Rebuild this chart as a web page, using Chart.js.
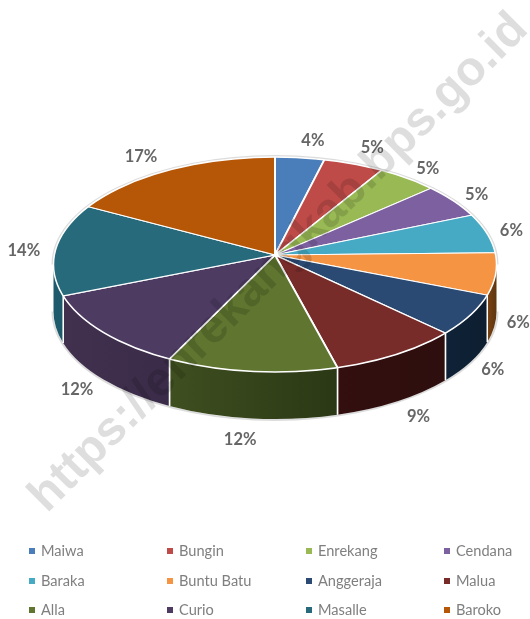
<!DOCTYPE html>
<html>
<head>
<meta charset="utf-8">
<style>
html,body{margin:0;padding:0;background:#fff;overflow:hidden}
#wrap{position:absolute;left:0;top:0;width:530px;height:619px}
</style>
<script src="https://cdn.jsdelivr.net/npm/chart.js@4"></script>
</head>
<body>
<div id="wrap"><canvas id="c" width="530" height="619"></canvas></div>
<script>
const categories = ["Maiwa","Bungin","Enrekang","Cendana","Baraka","Buntu Batu","Anggeraja","Malua","Alla","Curio","Masalle","Baroko"];
const shares = [3.6,4.5,4.7,5.4,6.45,5.85,5.9,9.1,12.4,11.6,14.0,16.6];
const topColors = ["#4a7ebb","#be4b48","#98b954","#7d60a0","#46aac4","#f59443","#2a4a73","#772c2a","#5f7530","#4d3b62","#276a7c","#b65708"];
const wallLeft = ["#2c4a70","#722d2b","#5b6e32","#4b3a60","#2a6675","#7a4312","#0f2237","#330f0f","#3f4f20","#41314f","#1d5a6b","#6b3305"];
const wallRight = ["#2c4a70","#722d2b","#5b6e32","#4b3a60","#2a6675","#5e3510","#0d1e30","#2e0e0e","#2b3815","#3a2b48","#1d5a6b","#6b3305"];
const labelNudges = [[13,-17],[18,-16],[18,-9],[19,-5],[21,-2],[25,49],[27,56],[24,63],[-12,68],[-31,58],[-31,4],[-24,-13]];
const watermark = "https://enrekangkab.bps.go.id";

// Top face: a true ellipse whose centre sits below the apex (perspective view).
const RX = 221, RY_BACK = 98, RY_FRONT = 117, DEPTH = 47, PIE_RADIUS = 250;
const RIM_A = 221.5, RIM_B = 107.5, RIM_DY = 9.5;
const LEGEND_COLS = [29, 167, 306, 444], LEGEND_ROWS = [551, 581, 610];

function squash(ctx, cx, cy, k, upper, W, H){
  ctx.save();
  ctx.beginPath();
  ctx.ellipse(cx,cy+RIM_DY,RIM_A,RIM_B,0,0,2*Math.PI);
  ctx.clip();
  ctx.beginPath();
  if(upper) ctx.rect(0,0,W,cy); else ctx.rect(0,cy,W,H-cy);
  ctx.clip();
  ctx.translate(cx,cy);
  ctx.scale(1,k);
  ctx.translate(-cx,-cy);
}

// Parametric angle on the rim ellipse where the slice edge at canvas angle t lands.
function rimAngle(t){
  const s = Math.sin(t), k = (s<0?RY_BACK:RY_FRONT)/RX;
  const dx = Math.cos(t)/RIM_A, dy = k*s/RIM_B, d = RIM_DY/RIM_B;
  const A = dx*dx+dy*dy, B = -2*dy*d, C = d*d-1;
  const r = (-B+Math.sqrt(B*B-4*A*C))/(2*A);
  const phi = Math.atan2(r*dy-d, r*dx);
  return phi;
}

const pie3d = {
  id:'pie3d',
  beforeDatasetDraw(chart,args){
    const ctx = chart.ctx, arcs = args.meta.data, cx = arcs[0].x, cy = arcs[0].y;
    const ey = cy+RIM_DY;
    ctx.save();
    ctx.strokeStyle = '#dcdcdc';
    ctx.lineWidth = 2;
    ctx.beginPath();
    ctx.ellipse(cx,ey,RIM_A+1,RIM_B+1,0,Math.PI,2*Math.PI);
    ctx.stroke();
    ctx.beginPath();
    ctx.ellipse(cx,ey+DEPTH,RIM_A+1,RIM_B+1,0,0,Math.PI);
    ctx.stroke();
    arcs.forEach((arc,i)=>{
      const a0 = Math.max(arc.startAngle,-0.25), b0 = Math.min(arc.endAngle,Math.PI+0.25);
      if(b0<=a0) return;
      const a = Math.max(arc.startAngle<=-0.25?0:rimAngle(a0),0);
      const b = Math.min(arc.endAngle>=Math.PI+0.25?Math.PI:rimAngle(b0)<-1?rimAngle(b0)+2*Math.PI:rimAngle(b0),Math.PI);
      if(b<=a) return;
      const x0 = cx+RIM_A*Math.cos(a), x1 = cx+RIM_A*Math.cos(b);
      const g = ctx.createLinearGradient(x1,0,x0,0);
      g.addColorStop(0,wallLeft[i]);
      g.addColorStop(1,wallRight[i]);
      ctx.fillStyle = g;
      ctx.beginPath();
      ctx.ellipse(cx,ey,RIM_A,RIM_B,0,a,b);
      ctx.ellipse(cx,ey+DEPTH,RIM_A,RIM_B,0,b,a,true);
      ctx.closePath();
      ctx.fill();
      ctx.strokeStyle = '#fff';
      ctx.lineWidth = 1.5;
      ctx.beginPath();
      [a,b].forEach(t=>{
        if(t<=0||t>=Math.PI) return;
        const x = cx+RIM_A*Math.cos(t), y = ey+RIM_B*Math.sin(t);
        ctx.moveTo(x,y); ctx.lineTo(x,y+DEPTH);
      });
      ctx.stroke();
    });
    ctx.restore();
    squash(ctx,cx,cy,RY_BACK/RX,true,chart.width,chart.height);
  },
  afterDatasetDraw(chart,args){
    const ctx = chart.ctx, arcs = args.meta.data, cx = arcs[0].x, cy = arcs[0].y;
    ctx.restore();
    squash(ctx,cx,cy,RY_FRONT/RX,false,chart.width,chart.height);
    args.meta.controller.draw();
    ctx.restore();
    ctx.save();
    ctx.strokeStyle = '#ffffff';
    ctx.lineWidth = 1.5;
    ctx.beginPath();
    ctx.ellipse(cx,cy+RIM_DY,RIM_A,RIM_B,0,0,2*Math.PI);
    ctx.stroke();
    ctx.restore();
  },
  afterDraw(chart){
    const ctx = chart.ctx, arcs = chart.getDatasetMeta(0).data;
    ctx.save();
    ctx.font = 'bold 16.5px Lato';
    ctx.fillStyle = '#666666';
    ctx.textAlign = 'center';
    ctx.textBaseline = 'middle';
    arcs.forEach((arc,i)=>{
      const m = (arc.startAngle+arc.endAngle)/2;
      const s = Math.sin(m);
      const x = arc.x+RX*Math.cos(m);
      const y = arc.y+(s<0?RY_BACK:RY_FRONT)*s;
      ctx.fillText(Math.round(shares[i])+'%',x+labelNudges[i][0],y+labelNudges[i][1]);
    });
    ctx.textAlign = 'left';
    ctx.font = '14.6px Lato';
    categories.forEach((name,i)=>{
      const col = i%4, row = Math.floor(i/4);
      const x = LEGEND_COLS[col], y = LEGEND_ROWS[row];
      ctx.fillStyle = topColors[i];
      ctx.fillRect(x,y-3,6,6);
      ctx.fillStyle = '#7f7f7f';
      ctx.fillText(name,x+12,y);
    });
    ctx.translate(279,263);
    ctx.rotate(-Math.PI/4);
    ctx.font = 'bold 48px "Liberation Sans"';
    ctx.textAlign = 'center';
    ctx.fillStyle = 'rgba(0,0,0,0.13)';
    ctx.fillText(watermark,0,0);
    ctx.restore();
  }
};

new Chart(document.getElementById('c'),{
  type:'pie',
  data:{labels:categories,datasets:[{
    data:shares,
    backgroundColor:topColors,
    borderColor:'#ffffff',
    borderWidth:2,
    radius:PIE_RADIUS
  }]},
  options:{
    responsive:false,
    animation:false,
    layout:{padding:{left:20,right:0,top:0,bottom:109}},
    plugins:{legend:{display:false},tooltip:{enabled:false}}
  },
  plugins:[pie3d]
});
</script>
</body>
</html>
